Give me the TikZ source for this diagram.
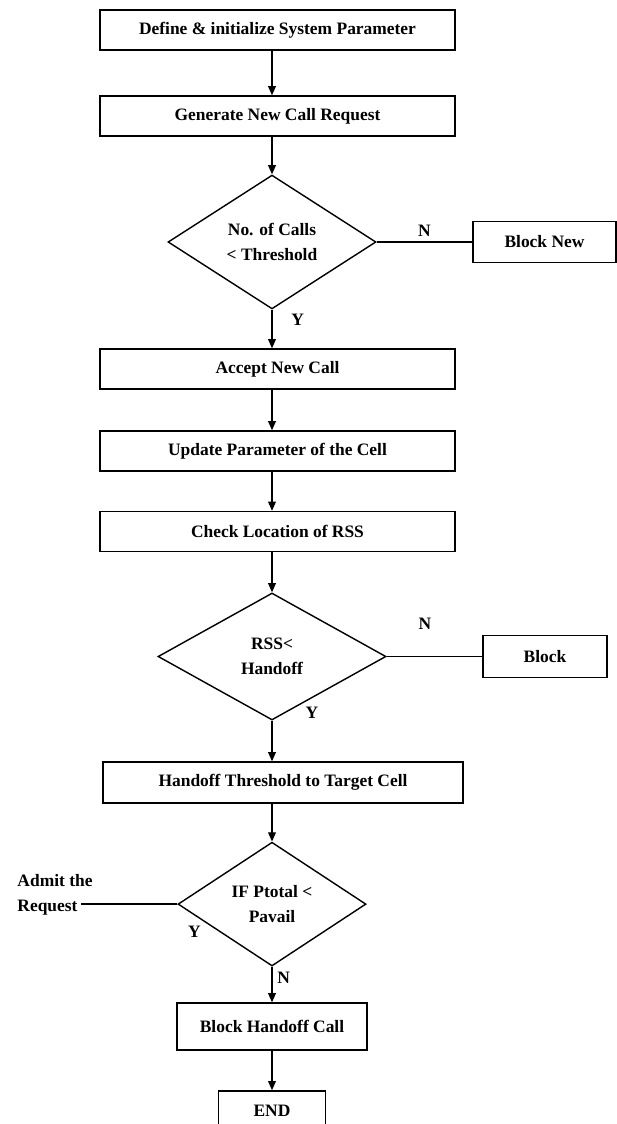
\documentclass[tikz,border=0pt]{standalone}
\usepackage{fontspec}
\setmainfont{Liberation Serif}
\usetikzlibrary{shapes.geometric, positioning, arrows.meta}

\begin{document}
\begin{tikzpicture}[->, >={Triangle[width=5.5pt, length=6.5pt]}, node distance=2.05cm, line width=0.9pt,
        every node/.style={font=\bfseries\fontsize{12.4}{18}\selectfont}]
    \tikzset{
        process/.style={
                rectangle, draw, line width=1pt, minimum width=8.875cm, minimum height=1cm, inner sep=2pt
            },
        decision/.style={
                diamond, draw, line width=1pt, align=center, inner sep=1pt
            }
    }

    \useasboundingbox (0,0) rectangle (15.425,-28.1);

    % Main column
    \node[process] (define) at (6.9375,-0.75) {Define \& initialize System Parameter};
    \node[process] (generate) [below of=define, node distance=2.15cm] {Generate New Call Request};
    \node[decision, minimum width=5.2cm, minimum height=3.25cm] (calls) [below of=generate, node distance=3.15cm, xshift=-0.1375cm] {No. of Calls\\< Threshold};
    \node[process] (accept) [below of=calls, node distance=3.175cm, xshift=0.1375cm] {Accept New Call};
    \node[process] (update) [below of=accept] {Update Parameter of the Cell};
    \node[process] (check) [below of=update, node distance=2.0125cm] {Check Location of RSS};
    \node[decision, minimum width=5.7cm, minimum height=3.175cm] (rss) [below of=check, node distance=3.125cm, xshift=-0.1375cm] {RSS<\\Handoff};
    \node[process, minimum width=9cm, minimum height=1.025cm] (handoff) [below of=rss, node distance=3.15cm, xshift=0.275cm] {Handoff Threshold to Target Cell};
    \node[decision, minimum width=4.7cm, minimum height=2.95cm] (power) [below of=handoff, node distance=3.04cm, xshift=-0.275cm] {IF Ptotal <\\Pavail};
    \node[process, minimum width=4.75cm, minimum height=1.175cm] (blockho) [below of=power, node distance=3.06cm] {Block Handoff Call};
    \node[process, minimum width=2.675cm] (stop) [below of=blockho, node distance=2.11cm] {END};

    % Side boxes
    \node[process, minimum width=3.575cm, minimum height=1.025cm] (blocknew) [right of=calls, node distance=6.8125cm] {Block New};
    \node[process, minimum width=3.1cm, minimum height=1.05cm] (block) [right of=rss, node distance=6.825cm] {Block};
    \node[align=left, inner sep=0pt] (admit) [left of=power, node distance=5.425cm, yshift=0.225cm] {Admit the\\Request};

    % Flow
    \draw (define.south -| calls) -- (generate.north -| calls);
    \draw (generate.south -| calls) -- (calls.north);
    \draw (calls.south) -- node[pos=0.25, right=0.35cm]{Y} (accept.north -| calls);
    \draw (accept.south -| calls) -- (update.north -| calls);
    \draw (update.south -| calls) -- (check.north -| calls);
    \draw (check.south -| rss) -- (rss.north);
    \draw (rss.south) -- node[pos=0, xshift=1cm, yshift=0.2cm]{Y} (handoff.north -| rss);
    \draw (handoff.south -| power) -- (power.north);
    \draw (power.south) -- node[pos=0.3, right]{N} (blockho.north);
    \draw (blockho.south) -- (stop.north);

    % Branches
    \draw[-] (calls.east) -- node[above]{N} (blocknew.west);
    \draw[-] (rss.east) -- node[pos=0.4, above=0.55cm]{N} (block.west);
    \draw[-] (power.west) -- node[pos=0, xshift=0.425cm, yshift=-0.7cm]{Y} ([xshift=-0.3cm]admit.east |- power.west);
\end{tikzpicture}
\end{document}
